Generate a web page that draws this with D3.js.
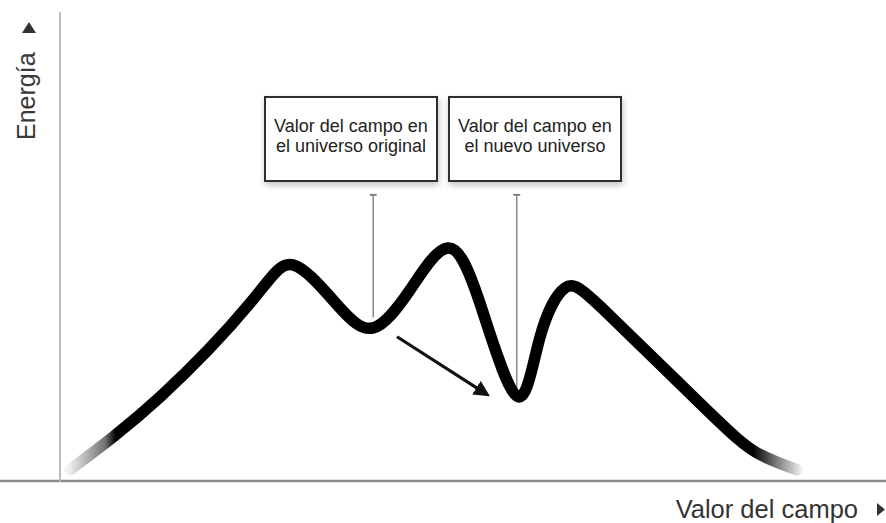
<!DOCTYPE html>
<html>
<head>
<meta charset="utf-8">
<script src="https://cdn.jsdelivr.net/npm/d3@7"></script>
<style>
  body { margin: 0; background: #fff; }
  svg { display: block; font-family: "Liberation Sans", Arial, Helvetica, sans-serif; }
</style>
</head>
<body>
<svg id="chart" width="886" height="523"></svg>
<script>
// energy curve (field value, energy)
const curve_x = [1.2, 12.2, 23.2, 28.4, 33.8, 38.2, 42.7, 47.3, 51.2, 55.7, 58.5, 61.6, 66.7, 78.9, 85.0, 89.9];
const curve_y = [2.6, 18.1, 38.1, 46.2, 37.7, 32.8, 40.9, 49.8, 38.1, 18.3, 30.6, 41.3, 36.0, 15.3, 6.2, 2.6];

// the two valleys that are labelled
const valley_x = [38.2, 55.7];
const valley_y = [35.0, 19.8];
const marker_top = 61.1;
const box_labels = [
    ["Valor del campo en", "el universo original"],
    ["Valor del campo en", "el nuevo universo"]
];

// arrow from the old valley to the new one
const arrow_from = [41.1, 30.9];
const arrow_to = [52.1, 18.6];

const x_label = "Valor del campo";
const y_label = "Energía";

let svg = d3.select("#chart");
let width = 886, height = 523;

let xScale = d3.scaleLinear().domain([0, 100]).range([60, 880]);
let yScale = d3.scaleLinear().domain([0, 100]).range([482, 12]);

let defs = svg.append("defs");

// fade at both ends of the curve
let grad = defs.append("linearGradient")
    .attr("id", "fade")
    .attr("gradientUnits", "userSpaceOnUse")
    .attr("x1", xScale(0)).attr("x2", xScale(100))
    .attr("y1", 0).attr("y2", 0);
let off = function (v) { return (v / 100); };
grad.append("stop").attr("offset", off(1.0)).attr("stop-color", "#000").attr("stop-opacity", 0.05);
grad.append("stop").attr("offset", off(5.5)).attr("stop-color", "#000").attr("stop-opacity", 0.55);
grad.append("stop").attr("offset", off(6.8)).attr("stop-color", "#000").attr("stop-opacity", 1);
grad.append("stop").attr("offset", off(84.5)).attr("stop-color", "#000").attr("stop-opacity", 1);
grad.append("stop").attr("offset", off(87.5)).attr("stop-color", "#000").attr("stop-opacity", 0.5);
grad.append("stop").attr("offset", off(90.5)).attr("stop-color", "#000").attr("stop-opacity", 0.05);

let shadow = defs.append("filter").attr("id", "shadow")
    .attr("x", "-10%").attr("y", "-10%").attr("width", "130%").attr("height", "140%");
shadow.append("feDropShadow")
    .attr("dx", 1).attr("dy", 3).attr("stdDeviation", 3)
    .attr("flood-color", "#000").attr("flood-opacity", 0.25);

defs.append("marker")
    .attr("id", "arrowhead")
    .attr("viewBox", "0 0 10 10")
    .attr("refX", 8).attr("refY", 5)
    .attr("markerWidth", 5).attr("markerHeight", 5)
    .attr("orient", "auto")
    .append("path")
    .attr("d", "M 0 0 L 10 5 L 0 10 z")
    .attr("fill", "#111");

// axes
svg.append("line")
    .attr("x1", 0).attr("x2", width)
    .attr("y1", yScale(0) - 1).attr("y2", yScale(0) - 1)
    .attr("stroke", "#8c8c8c").attr("stroke-width", 2.5);

svg.append("line")
    .attr("x1", xScale(0)).attr("x2", xScale(0))
    .attr("y1", yScale(100)).attr("y2", yScale(0))
    .attr("stroke", "#b5b5b5").attr("stroke-width", 1.8);

svg.append("text")
    .attr("x", 858).attr("y", 518)
    .attr("text-anchor", "end")
    .attr("font-size", "25.5px")
    .attr("fill", "#333")
    .text(x_label);
svg.append("path")
    .attr("d", "M 877 503 L 885 509.5 L 877 516 z")
    .attr("fill", "#333");

svg.append("text")
    .attr("transform", "translate(35,140) rotate(-90)")
    .attr("font-size", "25px")
    .attr("fill", "#3a3a3a")
    .text(y_label);
svg.append("path")
    .attr("d", "M 22 33 L 29 22 L 36 33 z")
    .attr("fill", "#333");

// label boxes
let box_x = [265, 449];
let box_w = 172, box_h = 84, box_top = 97;
let boxes = svg.selectAll(".box").data(box_labels).enter().append("g")
    .attr("class", "box");
boxes.append("rect")
    .attr("x", function (d, i) { return box_x[i]; })
    .attr("y", box_top)
    .attr("width", box_w).attr("height", box_h)
    .attr("fill", "#fff")
    .attr("stroke", "#2e2e2e").attr("stroke-width", 2)
    .attr("filter", "url(#shadow)");
boxes.each(function (d, i) {
    let t = d3.select(this).append("text")
        .attr("text-anchor", "middle")
        .attr("font-size", "18px")
        .attr("fill", "#222");
    d.forEach(function (line, j) {
        t.append("tspan")
            .attr("x", box_x[i] + box_w / 2)
            .attr("y", 132 + j * 19.5)
            .text(line);
    });
});

// markers from the boxes down to the valleys
svg.selectAll(".marker").data(valley_x).enter().append("line")
    .attr("class", "marker")
    .attr("x1", function (d) { return xScale(d); })
    .attr("x2", function (d) { return xScale(d); })
    .attr("y1", yScale(marker_top))
    .attr("y2", function (d, i) { return yScale(valley_y[i]); })
    .attr("stroke", "#8a8a8a").attr("stroke-width", 1.5);
svg.selectAll(".markertick").data(valley_x).enter().append("line")
    .attr("class", "markertick")
    .attr("x1", function (d) { return xScale(d) - 3.5; })
    .attr("x2", function (d) { return xScale(d) + 3.5; })
    .attr("y1", yScale(marker_top))
    .attr("y2", yScale(marker_top))
    .attr("stroke", "#777").attr("stroke-width", 1.8);

// energy curve
let points = curve_x.map(function (d, i) { return [d, curve_y[i]]; });
let line = d3.line()
    .x(function (d) { return xScale(d[0]); })
    .y(function (d) { return yScale(d[1]); })
    .curve(d3.curveNatural);

svg.append("path")
    .datum(points)
    .attr("d", line)
    .attr("fill", "none")
    .attr("stroke", "url(#fade)")
    .attr("stroke-width", 11.5)
    .attr("stroke-linecap", "round")
    .attr("stroke-linejoin", "round");

// arrow
svg.append("line")
    .attr("x1", xScale(arrow_from[0])).attr("y1", yScale(arrow_from[1]))
    .attr("x2", xScale(arrow_to[0])).attr("y2", yScale(arrow_to[1]))
    .attr("stroke", "#111").attr("stroke-width", 3.2)
    .attr("marker-end", "url(#arrowhead)");
</script>
</body>
</html>
